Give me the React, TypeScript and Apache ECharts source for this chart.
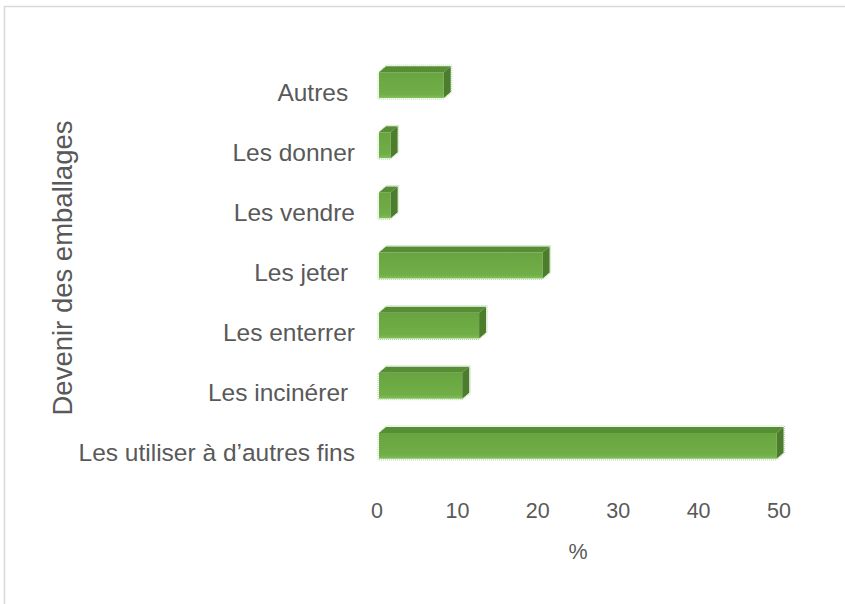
import React, { useEffect, useRef } from "react";
import * as echarts from "echarts";

// Categories listed bottom to top (as on the chart)
const categories = [
  "Les utiliser à d’autres fins",
  "Les incinérer ",
  "Les enterrer",
  "Les jeter ",
  "Les vendre",
  "Les donner",
  "Autres ",
];
const values = [49.7, 10.6, 12.7, 20.6, 1.7, 1.7, 8.3];
const xTicks = [0, 10, 20, 30, 40, 50];
const yTitle = "Devenir des emballages";
const xTitle = "%";

export default function App() {
  const ref = useRef<HTMLDivElement>(null);
  useEffect(() => {
    if (!ref.current) return;
    const chart = echarts.init(ref.current, undefined, { renderer: "svg" });
    const font = "'Liberation Sans', Arial, sans-serif";
    const grey = "#595959";
    const data = values.map((v, i) => [v, i]);
    chart.setOption({
      animation: false,
      backgroundColor: "#ffffff",
      grid: { left: 377, right: 66, top: 62, bottom: 121, containLabel: false },
      xAxis: {
        type: "value",
        min: xTicks[0],
        max: xTicks[xTicks.length - 1],
        interval: 10,
        axisLine: { show: false },
        axisTick: { show: false },
        splitLine: { show: false },
        axisLabel: { color: grey, fontSize: 21.5, fontFamily: font, margin: 17 },
        name: xTitle,
        nameLocation: "middle",
        nameGap: 58,
        nameTextStyle: { color: grey, fontSize: 21.5, fontFamily: font },
      },
      yAxis: {
        type: "category",
        data: categories,
        axisLine: { show: false },
        axisTick: { show: false },
        splitLine: { show: false },
        axisLabel: {
          color: grey,
          fontSize: 24.5,
          fontFamily: font,
          margin: 22,
        },
      },
      graphic: [
        {
          type: "rect",
          shape: { x: 4.5, y: 6.5, width: 900, height: 700 },
          style: { fill: "none", stroke: "#d9d9d9", lineWidth: 1.5 },
          silent: true,
        },
        {
          type: "text",
          x: 62,
          y: 268,
          rotation: Math.PI / 2,
          style: {
            text: yTitle,
            fill: grey,
            fontSize: 27.5,
            fontFamily: font,
            align: "center",
            verticalAlign: "middle",
          },
        },
      ],
      series: [
        {
          type: "custom",
          encode: { x: 0, y: 1 },
          data,
          renderItem: (params: any, api: any) => {
            const v = api.value(0);
            const idx = api.value(1);
            const s = api.coord([0, idx]);
            const e = api.coord([v, idx]);
            const band = api.size([0, 1])[1];
            const h = band * 0.43;
            const dx = 7;
            const dy = 6;
            const x0 = s[0] + 2;
            const x1 = e[0];
            const yc = s[1] - 7;
            const y0 = yc - h / 2;
            const y1 = yc + h / 2;
            const edge = { stroke: "rgba(169,209,142,0.9)", lineWidth: 1, lineDash: [1, 1] };
            return {
              type: "group",
              children: [
                {
                  type: "polygon",
                  shape: { points: [[x0 - 1, y0 + 1], [x0 + dx, y0 - dy - 1], [x1 + dx + 1, y0 - dy - 1], [x1 + dx + 1, y1 - dy], [x1, y1 + 1], [x0 - 1, y1 + 1]] },
                  style: { fill: "none", ...edge },
                },
                {
                  type: "rect",
                  shape: { x: x0, y: y0, width: x1 - x0, height: h },
                  style: {
                    fill: new echarts.graphic.LinearGradient(0, 0, 0, 1, [
                      { offset: 0, color: "#68a43f" },
                      { offset: 0.85, color: "#71ae48" },
                      { offset: 1, color: "#80c158" },
                    ]),
                  },
                },
                {
                  type: "polygon",
                  shape: { points: [[x0, y0], [x0 + dx, y0 - dy], [x1 + dx, y0 - dy], [x1, y0]] },
                  style: { fill: "#578d34" },
                },
                {
                  type: "polygon",
                  shape: { points: [[x1, y0], [x1 + dx, y0 - dy], [x1 + dx, y1 - dy], [x1, y1]] },
                  style: { fill: "#4b7d2c" },
                },
              ],
            };
          },
        },
      ],
    });
    return () => chart.dispose();
  }, []);
  return (
    <div
      ref={ref}
      style={{ position: "fixed", left: 0, top: 0, width: 845, height: 604 }}
    />
  );
}
